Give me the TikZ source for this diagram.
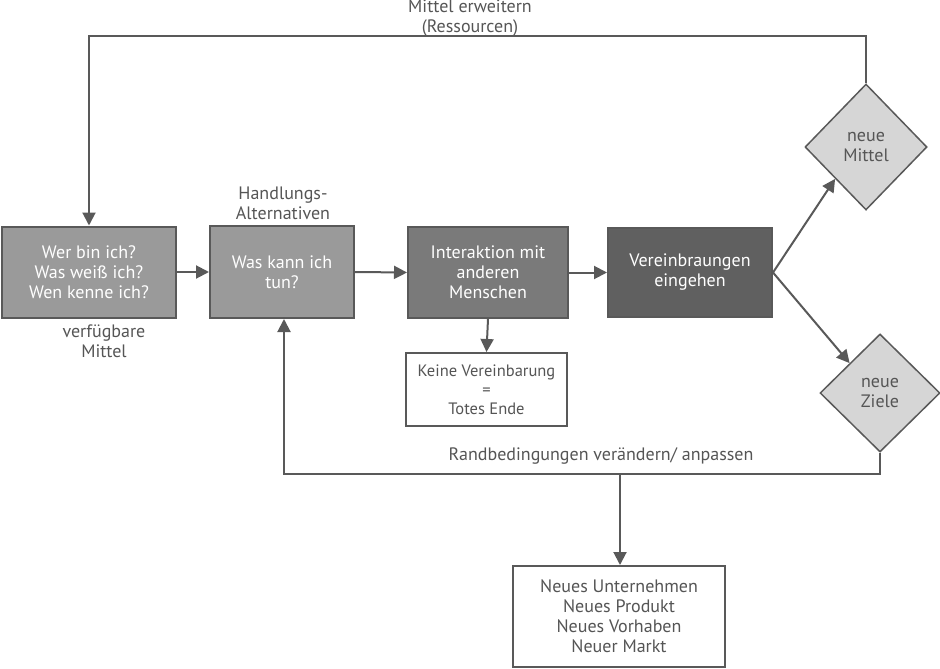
\documentclass[tikz,border=0pt]{standalone}
\usepackage{fontspec}
\setmainfont{PT Sans}
\usetikzlibrary{arrows.meta,shapes.geometric}
\definecolor{ln}{HTML}{595959}
\definecolor{txt}{HTML}{555555}
\definecolor{g1}{HTML}{9A9A9A}
\definecolor{g2}{HTML}{7A7A7A}
\definecolor{g3}{HTML}{606060}
\definecolor{dia}{HTML}{D6D6D6}
\tikzset{
  every node/.style={font=\fontsize{18}{20}\selectfont, text=txt, align=center},
  box/.style={draw=ln, line width=2pt, rectangle, inner sep=0pt, text=white},
  wbox/.style={draw=ln, line width=2pt, rectangle, inner sep=0pt, fill=white, text=txt},
  dec/.style={draw=ln, line width=1.5pt, diamond, fill=dia, inner sep=0pt, text=txt, aspect=1},
  conn/.style={draw=ln, line width=2pt, -{Triangle[length=13pt,width=13pt]}},
  plain/.style={draw=ln, line width=2pt}
}
\begin{document}
\begin{tikzpicture}[x=1pt,y=-1pt]
\useasboundingbox (0,0) rectangle (940,669);
\node[box, fill=g1, minimum width=174pt, minimum height=91pt] (b1) at (89,272) {Wer bin ich?\\Was weiß ich?\\Wen kenne ich?};
\node[box, fill=g1, minimum width=144pt, minimum height=92pt] (b2) at (282,272) {Was kann ich\\tun?};
\node[box, fill=g2, minimum width=160pt, minimum height=91pt] (b3) at (488,272.5) {Interaktion mit\\anderen\\Menschen};
\node[box, fill=g3, minimum width=164pt, minimum height=89pt] (b4) at (690,272.5) {Vereinbraungen\\eingehen};
\node[wbox, minimum width=161pt, minimum height=73pt, font=\fontsize{16.5}{19}\selectfont] (k) at (486.5,389.5) {Keine Vereinbarung\\=\\Totes Ende};
\node[wbox, minimum width=212pt, minimum height=101pt] (n) at (619,616.5) {Neues Unternehmen\\Neues Produkt\\Neues Vorhaben\\Neuer Markt};
\node[dec, minimum width=122pt, minimum height=126pt] (m) at (866,147) {neue\\Mittel};
\node[dec, minimum width=120pt, minimum height=118pt] (z) at (880,393) {neue\\Ziele};
\node (l1) at (470,18.5) {Mittel erweitern\\(Ressourcen)};
\node (l2) at (283,203) {Handlungs-\\Alternativen};
\node (l3) at (104,341) {verfügbare\\Mittel};
\node (l4) at (601,456) {Randbedingungen verändern/ anpassen};
\coordinate (t1) at (866,36);
\coordinate (t2) at (89,36);
\coordinate (r1) at (880,474);
\coordinate (r2) at (284,474);
\coordinate (r3) at (620,474);
\draw[conn] (m.north) -- (t1) -- (t2) -- (b1.north);
\draw[conn] (b1.east) -- (b2.west);
\draw[conn] (b2.east) -- (b3.west);
\draw[conn] (b3.east) -- (b4.west);
\draw[conn] (b4.east) -- (m.south west);
\draw[conn] (b4.east) -- (z.north west);
\draw[conn] (b3.south) -- (k.north);
\draw[conn] (z.south) -- (r1) -- (r2) -- (b2.south -| r2);
\draw[conn] (r3) -- (n.north -| r3);
\end{tikzpicture}
\end{document}
